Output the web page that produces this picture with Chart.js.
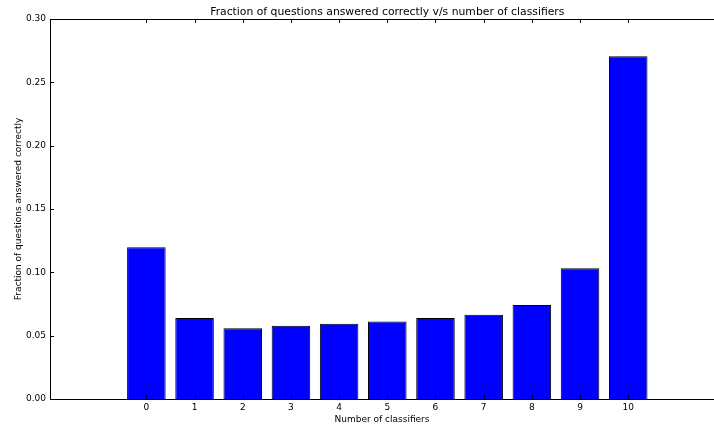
<!DOCTYPE html>
<html>
<head>
<meta charset="utf-8">
<script src="https://cdn.jsdelivr.net/npm/chart.js@4.4.1/dist/chart.umd.min.js"></script>
<style>
  body { margin: 0; background: #fff; }
  #wrap { width: 714px; height: 425px; }
</style>
</head>
<body>
<div id="wrap"><canvas id="classifier-chart" width="714" height="425"></canvas></div>
<script>
// data
var classifiers = [0, 1, 2, 3, 4, 5, 6, 7, 8, 9, 10];
var fractions = [0.1198, 0.064, 0.0559, 0.0579, 0.0595, 0.0611, 0.064, 0.0666, 0.0743, 0.1033, 0.2705];
var xTickValues = [0, 1, 2, 3, 4, 5, 6, 7, 8, 9, 10];
var yTickValues = [0, 0.05, 0.10, 0.15, 0.20, 0.25, 0.30];

var chartTitle = 'Fraction of questions answered correctly v/s number of classifiers';
var font = 'DejaVu Sans';

var points = [];
for (var i = 0; i < classifiers.length; i++) {
  points.push({x: classifiers[i], y: fractions[i]});
}

// white background, matplotlib style inward ticks, top spine and title
var decorations = {
  id: 'decorations',
  beforeDraw: function (chart) {
    var ctx = chart.ctx;
    ctx.save();
    ctx.fillStyle = '#fff';
    ctx.fillRect(0, 0, chart.width, chart.height);
    ctx.restore();
  },
  afterDraw: function (chart) {
    var ctx = chart.ctx;
    var area = chart.chartArea;
    var x = chart.scales.x;
    var y = chart.scales.y;
    ctx.save();
    ctx.strokeStyle = '#000';
    ctx.lineWidth = 1;
    ctx.beginPath();
    ctx.moveTo(area.left, area.top + 0.5);
    ctx.lineTo(area.right, area.top + 0.5);
    xTickValues.forEach(function (v) {
      var px = Math.round(x.getPixelForValue(v)) + 0.5;
      ctx.moveTo(px, area.bottom);
      ctx.lineTo(px, area.bottom - 4);
      ctx.moveTo(px, area.top);
      ctx.lineTo(px, area.top + 4);
    });
    yTickValues.forEach(function (v) {
      var py = Math.round(y.getPixelForValue(v)) + 0.5;
      ctx.moveTo(area.left, py);
      ctx.lineTo(area.left + 4, py);
    });
    ctx.stroke();

    ctx.fillStyle = '#000';
    ctx.font = '10.8px "' + font + '"';
    ctx.textAlign = 'center';
    ctx.textBaseline = 'middle';
    var cx = (x.getPixelForValue(-2) + x.getPixelForValue(12)) / 2;
    ctx.fillText(chartTitle, cx, 12);
    ctx.restore();
  }
};

new Chart('classifier-chart', {
  type: 'bar',
  data: {
    datasets: [
      {
        data: points,
        backgroundColor: '#0000ff',
        borderColor: '#000',
        borderWidth: 1,
        barPercentage: 0.8,
        categoryPercentage: 1.0
      }
    ]
  },
  options: {
    responsive: false,
    animation: false,
    layout: { padding: { top: 19, left: 0, right: 0, bottom: 0 } },
    plugins: {
      legend: { display: false },
      tooltip: { enabled: false }
    },
    scales: {
      x: {
        type: 'linear',
        offset: false,
        min: -2,
        max: 11.78,
        grid: { display: false, drawTicks: false },
        border: { display: true, color: '#000', width: 1 },
        afterBuildTicks: function (scale) {
          scale.ticks = xTickValues.map(function (v) { return {value: v}; });
        },
        afterFit: function (scale) { scale.height = 26; },
        ticks: {
          color: '#000',
          padding: 3,
          maxRotation: 0,
          autoSkip: false,
          font: { family: font, size: 9 },
          callback: function (v) { return String(v); }
        },
        title: {
          display: true,
          text: 'Number of classifiers',
          color: '#000',
          padding: { top: 0, bottom: 0 },
          font: { family: font, size: 9 }
        }
      },
      y: {
        min: 0,
        max: 0.3,
        grid: { display: false, drawTicks: false },
        border: { display: true, color: '#000', width: 1 },
        afterBuildTicks: function (scale) {
          scale.ticks = yTickValues.map(function (v) { return {value: v}; });
        },
        afterFit: function (scale) { scale.width = 50; },
        ticks: {
          color: '#000',
          padding: 4,
          font: { family: font, size: 9 },
          callback: function (v) { return v.toFixed(2); }
        },
        title: {
          display: true,
          text: 'Fraction of questions answered correctly',
          color: '#000',
          padding: { top: 13, bottom: 0 },
          font: { family: font, size: 9 }
        }
      }
    }
  },
  plugins: [decorations]
});
</script>
</body>
</html>
